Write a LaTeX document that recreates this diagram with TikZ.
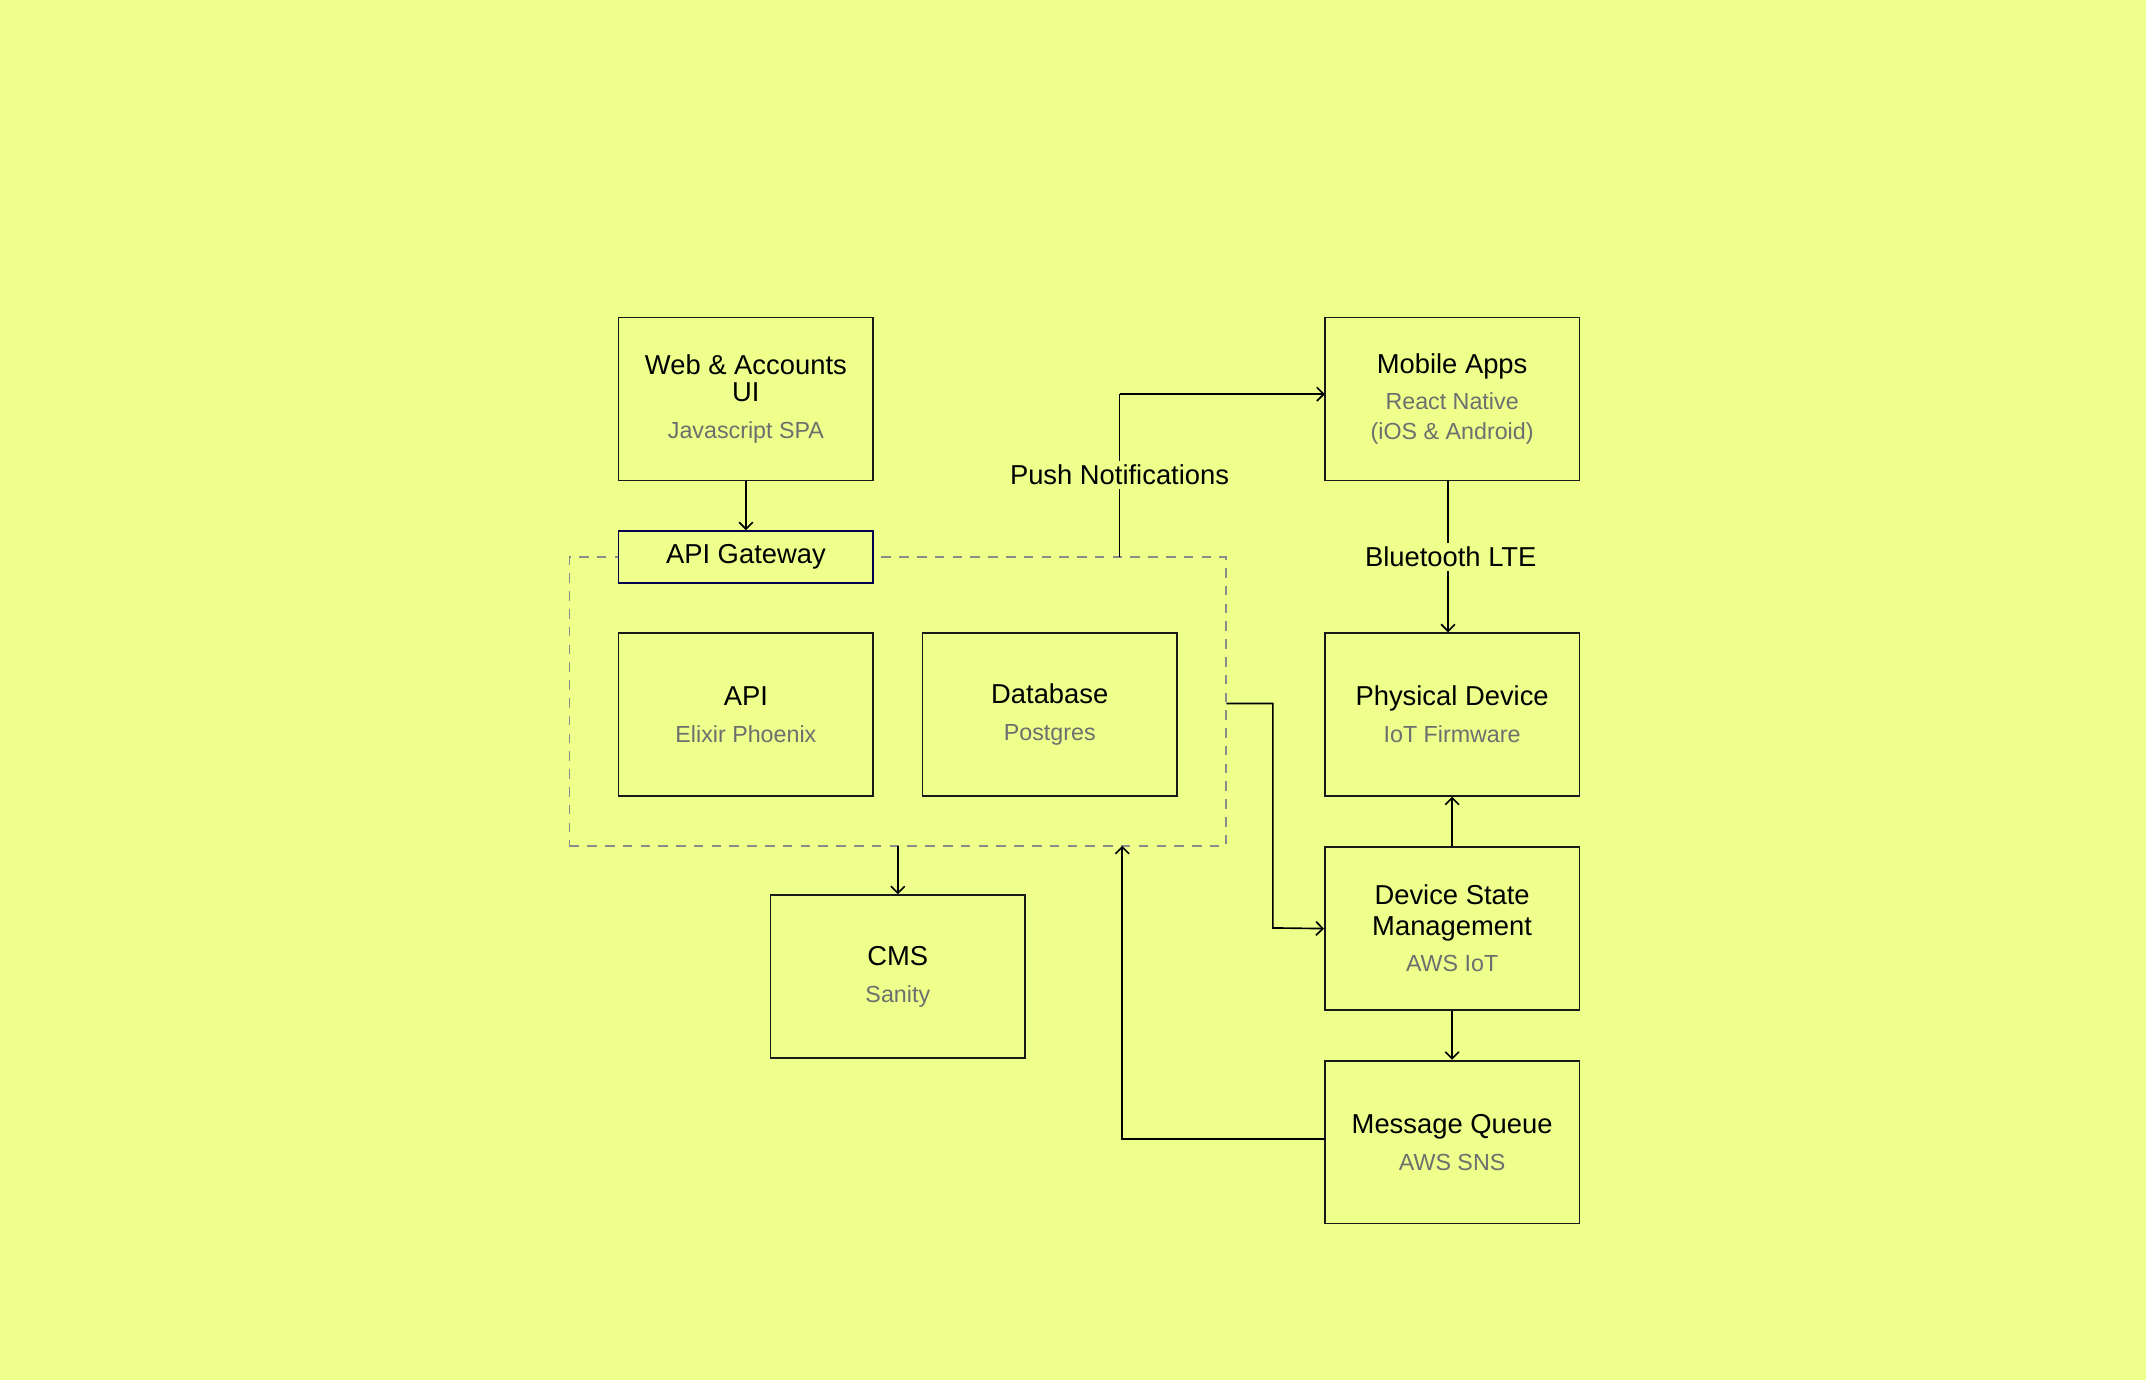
\documentclass[tikz,border=0pt]{standalone}
\usepackage{fontspec}
\setmainfont{Liberation Sans}
\usetikzlibrary{arrows.meta}
\definecolor{bg}{HTML}{EEFF8C}
\definecolor{sub}{HTML}{6E6E6E}
\begin{document}
\begin{tikzpicture}[x=1pt,y=-1pt,
  box/.style={draw=black!90,line width=1.2pt,minimum width=186pt,minimum height=119pt,align=center,inner sep=2pt,font=\fontsize{20}{24}\selectfont},
  arr/.style={line width=1.2pt,-{Straight Barb[length=5pt,width=10pt]}},
  ln/.style={line width=1.2pt},
  lbl/.style={fill=bg,font=\fontsize{20}{24}\selectfont,inner sep=3pt}]
\fill[bg] (0,0) rectangle (1568,1008);
\useasboundingbox (0,0) rectangle (1568,1008);
\newcommand{\st}[1]{\\[3pt]{\color{sub}\fontsize{17}{21}\selectfont #1}}
\node[draw=sub!80,dashed,dash pattern=on 7pt off 6pt,line width=1.2pt,minimum width=480pt,minimum height=211pt] (grp) at (656,512.5) {};
\node[box] (web) at (545,291.5) {Web \& Accounts\\[-4pt]UI\st{Javascript SPA}};
\node[box,draw=blue!30!black,minimum height=38pt,fill=bg] (gw) at (545,407) {API Gateway};
\node[box] (api) at (545,522) {API\st{Elixir Phoenix}};
\node[box] (db) at (767,522) {Database\st{Postgres}};
\node[box] (cms) at (656,713.5) {CMS\st{Sanity}};
\node[box] (mob) at (1061,291.5) {Mobile Apps\\[2pt]{\color{sub}\fontsize{17}{20}\selectfont React Native}\\[-2pt]{\color{sub}\fontsize{17}{20}\selectfont (iOS \& Android)}};
\node[box] (phy) at (1061,522) {Physical Device\st{IoT Firmware}};
\node[box] (dsm) at (1061,678.5) {Device State\\[-2pt]Management\st{AWS IoT}};
\node[box] (mq) at (1061,834.5) {Message Queue\st{AWS SNS}};
\coordinate (p1) at (818,407);
\coordinate (p2) at (818,288);
\coordinate (m1) at (968,288);
\draw[arr] (web.south) -- (gw.north);
\draw[ln] (p1) -- (p2);
\draw[arr] (p2) -- (m1);
\node[lbl] (pn) at (818,347) {Push Notifications};
\draw[arr] (1058,351) -- (1058,462);
\node[lbl] (bt) at (1060,407) {Bluetooth LTE};
\draw[arr] (dsm.north) -- (phy.south);
\draw[arr] (dsm.south) -- (mq.south |- mq.north);
\coordinate (r1) at (896,514);
\coordinate (r2) at (930,514);
\coordinate (r3) at (930,678);
\draw[arr] (r1) -- (r2) -- (r3) -- (dsm.west);
\coordinate (q1) at (968,832);
\coordinate (q2) at (820,832);
\coordinate (q3) at (820,618);
\draw[arr] (q1) -- (q2) -- (q3);
\coordinate (c1) at (656,618);
\draw[arr] (c1) -- (cms.north);
\end{tikzpicture}
\end{document}
